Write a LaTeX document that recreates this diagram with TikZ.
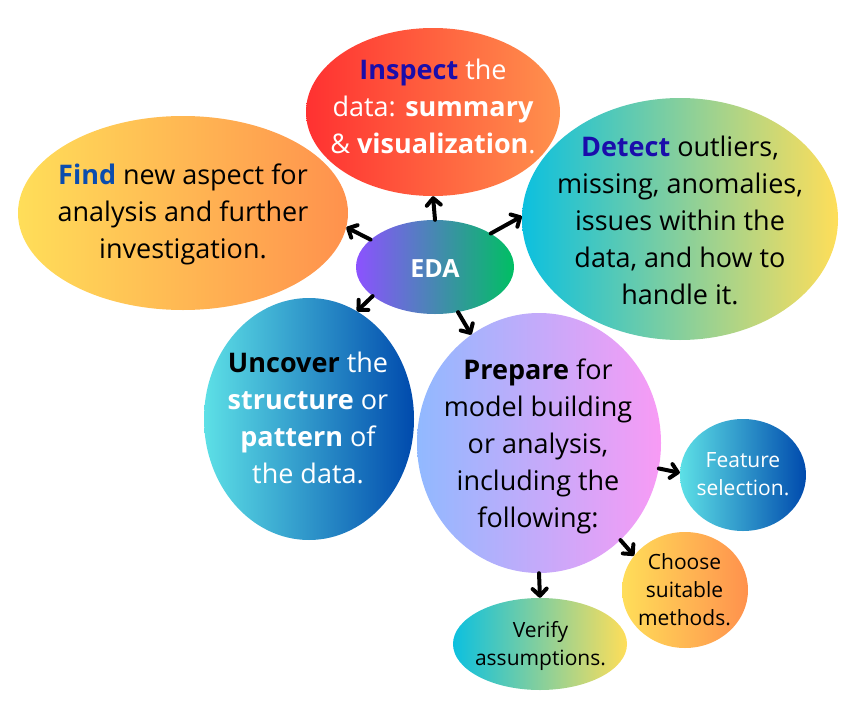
\documentclass[tikz,border=0pt]{standalone}
\usepackage{fontspec}
\setmainfont{Open Sans}
\usetikzlibrary{shapes.geometric,arrows.meta}
\definecolor{cred}{HTML}{FF3131}
\definecolor{corange}{HTML}{FF914D}
\definecolor{cyellow}{HTML}{FFDE59}
\definecolor{cpurple}{HTML}{8C52FF}
\definecolor{cgreen}{HTML}{00BF63}
\definecolor{ccyan}{HTML}{0CC0DF}
\definecolor{clcyan}{HTML}{5DE0E6}
\definecolor{cdblue}{HTML}{004AAD}
\definecolor{cpblue}{RGB}{145,185,255}
\definecolor{cpink}{RGB}{248,155,245}
\definecolor{tdblue}{HTML}{1A0DAB}
\definecolor{tfind}{HTML}{0B4DAE}
\tikzset{
  blob/.style={ellipse, inner sep=0pt, draw=none},
  bigtext/.style={align=center, inner sep=0pt, font=\fontsize{27}{37}\selectfont},
  smalltext/.style={align=center, inner sep=0pt, font=\fontsize{21}{28}\selectfont},
  conn/.style={line width=4pt, line cap=round,
    -{Straight Barb[length=7pt,width=14pt,line cap=round,line join=round]}}
}
\begin{document}
\begin{tikzpicture}[x=1pt,y=-1pt]
\useasboundingbox (0,0) rectangle (862,712);
% ellipses
\node[blob, minimum width=254pt, minimum height=168pt, left color=cred, right color=corange] (inspect) at (433,112) {};
\node[blob, minimum width=330pt, minimum height=194pt, left color=cyellow, right color=corange] (find) at (183,213) {};
\node[blob, minimum width=316pt, minimum height=242pt, left color=ccyan, right color=cyellow] (detect) at (680,219) {};
\node[blob, minimum width=210pt, minimum height=242pt, left color=clcyan, right color=cdblue] (uncover) at (309,419) {};
\node[blob, minimum width=244pt, minimum height=260pt, left color=cpblue, right color=cpink] (prepare) at (539,443) {};
\node[blob, minimum width=158pt, minimum height=94pt, left color=cpurple, right color=cgreen] (eda) at (435,267) {};
\node[blob, minimum width=126pt, minimum height=112pt, left color=clcyan, right color=cdblue] (feature) at (743,475) {};
\node[blob, minimum width=126pt, minimum height=116pt, left color=cyellow, right color=corange] (choose) at (685,590) {};
\node[blob, minimum width=174pt, minimum height=92pt, left color=ccyan, right color=cyellow] (verify) at (540,644) {};
% texts
\node[bigtext, text=white] (tinspect) at (433,106) {{\color{tdblue}\bfseries Inspect} the\\data: \textbf{summary}\\\& \textbf{visualization}.};
\node[bigtext] (tfind) at (183,214) {{\color{tfind}\bfseries Find} new aspect for\\analysis and further\\investigation.};
\node[bigtext] (tdetect) at (680,220) {{\color{tdblue}\bfseries Detect} outliers,\\missing, anomalies,\\issues within the\\data, and how to\\handle it.};
\node[bigtext, text=white] (tuncover) at (308,418) {{\color{black}\bfseries Uncover} the\\\textbf{structure} or\\\textbf{pattern} of\\the data.};
\node[bigtext] (tprepare) at (538,446) {\textbf{Prepare} for\\model building\\or analysis,\\including the\\following:};
\node[text=white, inner sep=0pt, font=\fontsize{25}{28}\selectfont\bfseries] (teda) at (435,268.5) {EDA};
\node[smalltext, text=white] (tfeature) at (743,474) {Feature\\selection.};
\node[smalltext] (tchoose) at (684.5,589.5) {Choose\\suitable\\methods.};
\node[smalltext] (tverify) at (540.5,645.5) {Verify\\assumptions.};
% connectors
\draw[conn] (eda.90) -- (inspect.-90);
\draw[conn] (eda.157) -- (find.-5);
\draw[conn] (eda.31) -- (detect.179);
\draw[conn] (eda.-155) -- (uncover.66);
\draw[conn] (eda.-63) -- (prepare.122);
\draw[conn] (prepare.-12) -- (feature.178);
\draw[conn] (prepare.-50) -- (choose.146);
\draw[conn] (prepare.-90) -- (verify.90);
\end{tikzpicture}
\end{document}
